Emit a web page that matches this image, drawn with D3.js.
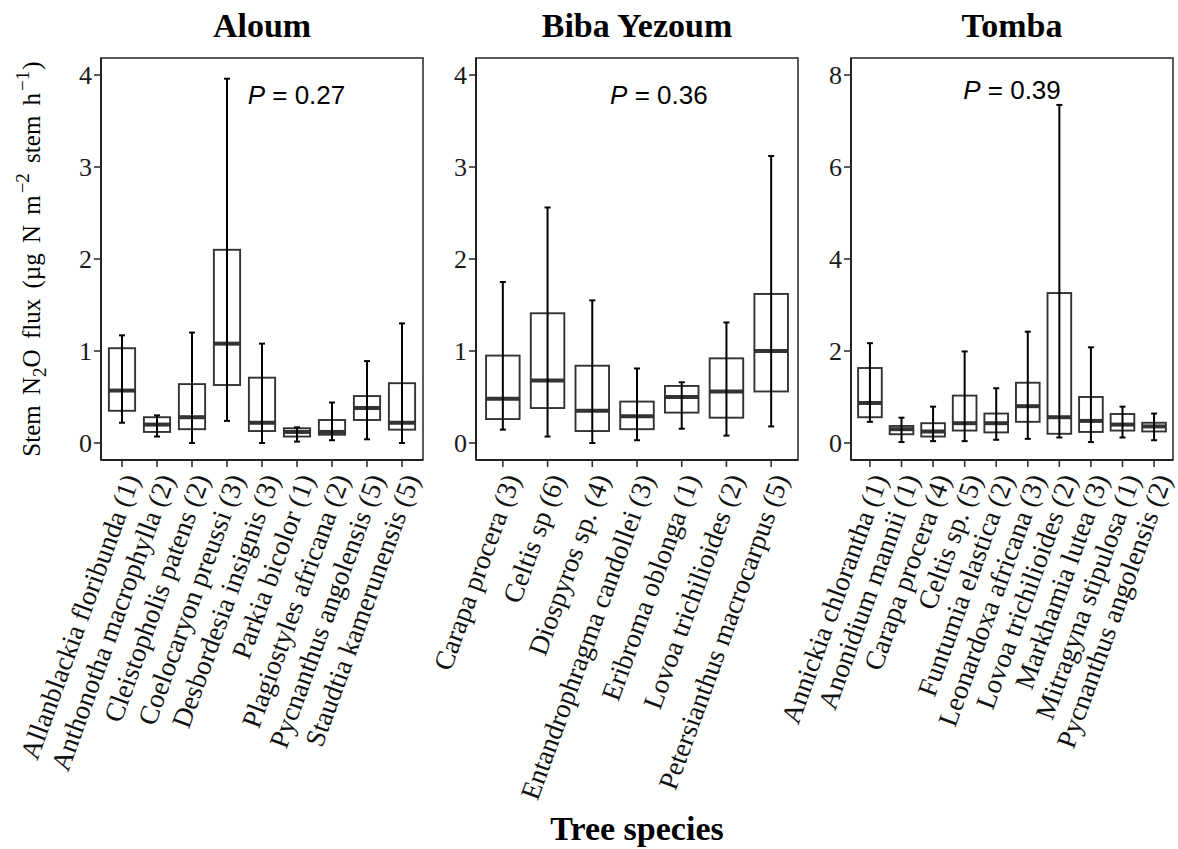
<!DOCTYPE html>
<meta charset="utf-8">
<svg width="1178" height="849"></svg>

<style>
body { margin: 0; background: #fff; }
svg { display: block; font-family: "Liberation Serif", "Times New Roman", serif; }
.frame { fill: none; stroke: #333; stroke-width: 1.6; }
.axis-line { stroke: #222; stroke-width: 2; }
.tick-line { stroke: #333; stroke-width: 1.6; }
.box { fill: none; stroke: #333; stroke-width: 1.9; }
.median { stroke: #333; stroke-width: 4; }
.whisker { stroke: #000; stroke-width: 2; }
.ytick { font-size: 26px; fill: #1a1a1a; }
.xlab { font-size: 27.5px; fill: #111; }
.title { font-size: 34px; font-weight: bold; }
.pval { font-family: "Liberation Sans", Arial, sans-serif; font-size: 26px; }
</style>

<script src="https://d3js.org/d3.v7.min.js"></script>

<script>

var sites = ["Aloum", "Biba Yezoum", "Tomba"];
var pValues = ["0.27", "0.36", "0.39"];

var aloumSpecies = ["Allanblackia floribunda", "Anthonotha macrophylla", "Cleistopholis patens",
  "Coelocaryon preussi", "Desbordesia insignis", "Parkia bicolor", "Plagiostyles africana",
  "Pycnanthus angolensis", "Staudtia kamerunensis"];
var aloumN = [1, 2, 2, 3, 3, 1, 2, 5, 5];
// [min, q1, median, q3, max]
var aloumFlux = [
  [0.22, 0.35, 0.57, 1.03, 1.17],
  [0.07, 0.12, 0.20, 0.28, 0.30],
  [0.00, 0.15, 0.28, 0.64, 1.20],
  [0.24, 0.63, 1.08, 2.10, 3.96],
  [0.00, 0.13, 0.22, 0.71, 1.08],
  [0.015, 0.07, 0.12, 0.16, 0.17],
  [0.03, 0.09, 0.12, 0.25, 0.44],
  [0.04, 0.25, 0.38, 0.51, 0.89],
  [0.00, 0.145, 0.22, 0.65, 1.30]
];

var bibaSpecies = ["Carapa procera", "Celtis sp", "Diospyros sp.", "Entandrophragma candollei",
  "Eribroma oblonga", "Lovoa trichilioides", "Petersianthus macrocarpus"];
var bibaN = [3, 6, 4, 3, 1, 2, 5];
var bibaFlux = [
  [0.145, 0.26, 0.48, 0.95, 1.75],
  [0.07, 0.38, 0.68, 1.41, 2.56],
  [0.00, 0.13, 0.35, 0.84, 1.55],
  [0.03, 0.15, 0.29, 0.45, 0.81],
  [0.155, 0.33, 0.50, 0.62, 0.66],
  [0.08, 0.275, 0.56, 0.92, 1.31],
  [0.18, 0.56, 1.00, 1.62, 3.12]
];

var tombaSpecies = ["Annickia chlorantha", "Anonidium mannii", "Carapa procera", "Celtis sp.",
  "Funtumia elastica", "Leonardoxa africana", "Lovoa trichilioides", "Markhamia lutea",
  "Mitragyna stipulosa", "Pycnanthus angolensis"];
var tombaN = [1, 1, 4, 5, 2, 3, 2, 3, 1, 2];
var tombaFlux = [
  [0.46, 0.56, 0.87, 1.63, 2.17],
  [0.02, 0.19, 0.30, 0.37, 0.55],
  [0.04, 0.14, 0.25, 0.43, 0.79],
  [0.04, 0.27, 0.43, 1.03, 1.99],
  [0.07, 0.23, 0.43, 0.64, 1.19],
  [0.09, 0.46, 0.80, 1.31, 2.42],
  [0.12, 0.20, 0.56, 3.26, 7.35],
  [0.02, 0.24, 0.48, 1.00, 2.08],
  [0.12, 0.27, 0.40, 0.63, 0.79],
  [0.06, 0.25, 0.36, 0.44, 0.64]
];

var yTicksLow = [0, 1, 2, 3, 4];
var yTicksTomba = [0, 2, 4, 6, 8];

var panels = [
  {species: aloumSpecies, n: aloumN, flux: aloumFlux, ticks: yTicksLow, max: 4, left: 101, pX: 0.607, pY: 46},
  {species: bibaSpecies, n: bibaN, flux: bibaFlux, ticks: yTicksLow, max: 4, left: 476, pX: 0.568, pY: 46},
  {species: tombaSpecies, n: tombaN, flux: tombaFlux, ticks: yTicksTomba, max: 8, left: 851, pX: 0.5, pY: 41}
];

var svg = d3.select("svg");
var plotTop = 58, plotBottom = 460, pw = 322;
var labelAngle = 70;

panels.forEach(function(p, i) {
  var g = svg.append("g");
  var x = d3.scalePoint()
      .domain(p.species)
      .range([p.left, p.left + pw])
      .padding(0.6);
  var pad = p.max * 0.04625;
  var y = d3.scaleLinear()
      .domain([-pad, p.max + pad])
      .range([plotBottom, plotTop]);
  var bw = x.step() * 0.75;

  // title
  g.append("text")
      .attr("class", "title")
      .attr("x", p.left + pw / 2)
      .attr("y", 37)
      .attr("text-anchor", "middle")
      .text(sites[i]);

  // boxes
  var box = g.selectAll(".bp")
    .data(p.flux)
    .enter().append("g")
      .attr("class", "bp");

  box.append("rect")
      .attr("class", "box")
      .attr("x", function(d, j) { return x(p.species[j]) - bw / 2; })
      .attr("width", bw)
      .attr("y", function(d) { return y(d[3]); })
      .attr("height", function(d) { return y(d[1]) - y(d[3]); });

  box.append("line")
      .attr("class", "median")
      .attr("x1", function(d, j) { return x(p.species[j]) - bw / 2; })
      .attr("x2", function(d, j) { return x(p.species[j]) + bw / 2; })
      .attr("y1", function(d) { return y(d[2]); })
      .attr("y2", function(d) { return y(d[2]); });

  box.append("line")
      .attr("class", "whisker")
      .attr("x1", function(d, j) { return x(p.species[j]); })
      .attr("x2", function(d, j) { return x(p.species[j]); })
      .attr("y1", function(d) { return y(d[0]); })
      .attr("y2", function(d) { return y(d[4]); });

  [0, 4].forEach(function(k) {
    box.append("line")
        .attr("class", "whisker")
        .attr("x1", function(d, j) { return x(p.species[j]) - 3; })
        .attr("x2", function(d, j) { return x(p.species[j]) + 3; })
        .attr("y1", function(d) { return y(d[k]); })
        .attr("y2", function(d) { return y(d[k]); });
  });

  // frame and axes
  g.append("rect")
      .attr("class", "frame")
      .attr("x", p.left).attr("y", plotTop)
      .attr("width", pw).attr("height", plotBottom - plotTop);
  g.append("line").attr("class", "axis-line")
      .attr("x1", p.left).attr("x2", p.left).attr("y1", plotTop).attr("y2", plotBottom);
  g.append("line").attr("class", "axis-line")
      .attr("x1", p.left).attr("x2", p.left + pw).attr("y1", plotBottom).attr("y2", plotBottom);

  // y ticks
  var yt = g.selectAll(".yt").data(p.ticks).enter().append("g");
  yt.append("line").attr("class", "tick-line")
      .attr("x1", p.left - 7).attr("x2", p.left)
      .attr("y1", function(d) { return y(d); })
      .attr("y2", function(d) { return y(d); });
  yt.append("text").attr("class", "ytick")
      .attr("x", p.left - 9)
      .attr("y", function(d) { return y(d); })
      .attr("dy", "0.34em")
      .attr("text-anchor", "end")
      .text(function(d) { return d; });

  // x ticks and labels
  var xt = g.selectAll(".xt").data(p.species).enter().append("g");
  xt.append("line").attr("class", "tick-line")
      .attr("x1", function(d) { return x(d); })
      .attr("x2", function(d) { return x(d); })
      .attr("y1", plotBottom).attr("y2", plotBottom + 7);
  xt.append("text").attr("class", "xlab")
      .attr("transform", function(d) { return "translate(" + x(d) + "," + (plotBottom + 12) + ") rotate(" + (-labelAngle) + ")"; })
      .attr("text-anchor", "end")
      .attr("dy", "0.7em")
      .text(function(d, j) { return d + " (" + p.n[j] + ")"; });

  // P value
  var pt = g.append("text")
      .attr("class", "pval")
      .attr("x", p.left + pw * p.pX)
      .attr("y", plotTop + p.pY)
      .attr("text-anchor", "middle");
  pt.append("tspan").attr("font-style", "italic").text("P");
  pt.append("tspan").text(" = " + pValues[i]);
});

// y axis title
var yl = svg.append("text")
    .attr("transform", "translate(40,259) rotate(-90)")
    .attr("text-anchor", "middle")
    .style("font-size", "25px")
    .style("word-spacing", "4px");
yl.append("tspan").text("Stem N");
yl.append("tspan").attr("dy", 6).style("font-size", "19px").text("2");
yl.append("tspan").attr("dy", -6).text("O flux (µg N m");
yl.append("tspan").attr("dy", -11).attr("dx", 2).style("font-size", "19px").text("\u22122");
yl.append("tspan").attr("dy", 11).text(" stem h");
yl.append("tspan").attr("dy", -11).attr("dx", 2).style("font-size", "19px").text("\u22121");
yl.append("tspan").attr("dy", 11).attr("dx", 1).text(")");

// x axis title
svg.append("text")
    .attr("class", "title")
    .attr("x", 637)
    .attr("y", 840)
    .attr("text-anchor", "middle")
    .text("Tree species");

</script>
